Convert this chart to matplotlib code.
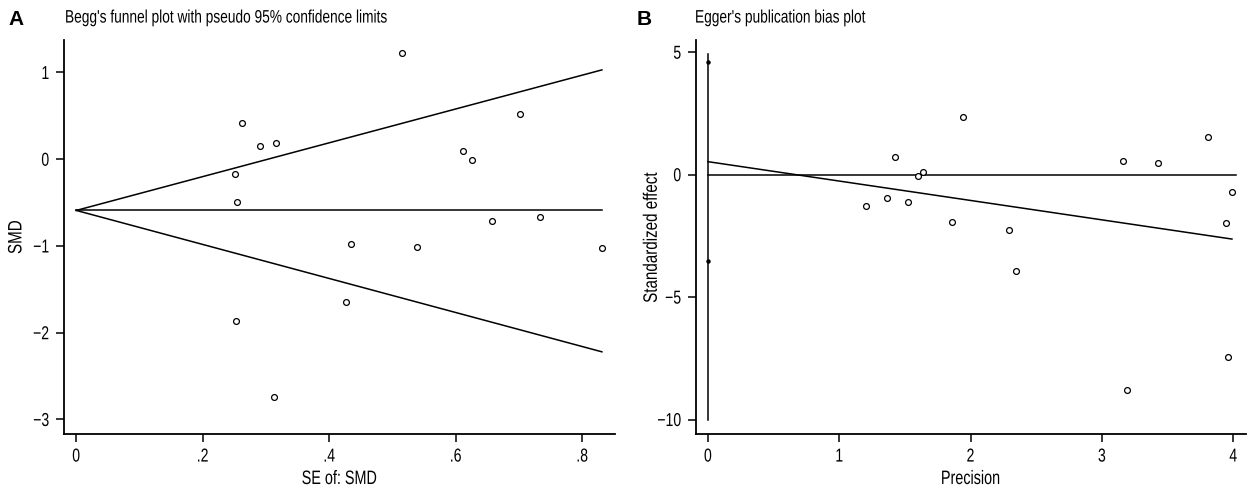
import numpy as np
import matplotlib
matplotlib.use("Agg")
import matplotlib.pyplot as plt
from matplotlib.ticker import FixedLocator, FixedFormatter
from matplotlib.patheffects import AbstractPathEffect
from matplotlib.transforms import Affine2D

plt.rcParams['font.family'] = ['Liberation Sans', 'DejaVu Sans']

# Panel A: Begg's funnel plot (SE vs SMD)
se_smd = [0.515, 0.262, 0.291, 0.316, 0.251, 0.254, 0.435, 0.701, 0.612,
          0.626, 0.657, 0.733, 0.538, 0.831, 0.253, 0.313, 0.426]
smd = [1.23, 0.416, 0.155, 0.19, -0.17, -0.49, -0.975, 0.52, 0.09,
       -0.006, -0.707, -0.67, -1.006, -1.02, -1.868, -2.745, -1.646]
funnel_x = [0.0, 0.831]
funnel_mid = [-0.59, -0.59]
funnel_up = [-0.59, 1.03]
funnel_lo = [-0.59, -2.22]
a_xticks = [0, 0.2, 0.4, 0.6, 0.8]
a_xlabels = ["0", ".2", ".4", ".6", ".8"]
a_yticks = [1, 0, -1, -2, -3]

# Panel B: Egger's publication bias plot (precision vs standardized effect)
precision = [1.424, 1.206, 1.363, 1.523, 1.599, 1.637, 1.861, 1.94, 3.16,
             3.43, 3.81, 3.993, 3.943, 2.295, 2.348, 3.193, 3.96]
std_effect = [0.72, -1.28, -0.95, -1.12, -0.05, 0.11, -1.92, 2.36, 0.56,
              0.48, 1.52, -0.71, -1.99, -2.28, -3.92, -8.81, -7.44]
ci_x = [0, 0]
ci_y = [-10, 4.93]
ci_ends = [4.58, -3.51]
fit_x = [0, 3.99]
fit_y = [0.53, -2.63]
zero_x = [0, 4.02]
zero_y = [0, 0]
b_xticks = [0, 1, 2, 3, 4]
b_yticks = [5, 0, -5, -10]


class Condensed(AbstractPathEffect):
    # squeeze glyphs along the text direction (Stata's narrow font look)
    def __init__(self, sx=0.8, anchor='left'):
        super().__init__()
        self.sx = sx
        self.anchor = anchor

    def draw_path(self, renderer, gc, tpath, affine, rgbFace=None):
        xmax = tpath.vertices[:, 0].max() if len(tpath.vertices) else 0
        x0 = {'left': 0, 'center': xmax / 2, 'right': xmax}[self.anchor]
        t = Affine2D().translate(-x0, 0).scale(self.sx, 1).translate(x0, 0) + affine
        renderer.draw_path(gc, tpath, t, rgbFace)


fig = plt.figure(figsize=(12.5, 4.88), dpi=100)
axA = fig.add_axes([0.0512, 0.1107, 0.4408, 0.8074])
axB = fig.add_axes([0.5568, 0.1107, 0.4400, 0.8074])

lw = 1.1
mk = dict(marker='o', markersize=4.2, markerfacecolor='white',
          markeredgecolor='black', markeredgewidth=0.9, linestyle='none')

# --- A ---
axA.plot(funnel_x, funnel_mid, color='black', lw=lw)
axA.plot(funnel_x, funnel_up, color='black', lw=lw)
axA.plot(funnel_x, funnel_lo, color='black', lw=lw)
axA.plot(se_smd, smd, **mk)
axA.set_xlim(-0.0194, 0.8517)
axA.set_ylim(-3.167, 1.375)
axA.xaxis.set_major_locator(FixedLocator(a_xticks))
axA.xaxis.set_major_formatter(FixedFormatter(a_xlabels))
axA.set_yticks(a_yticks)
axA.set_xlabel("SE of: SMD", fontsize=14)
axA.set_ylabel("SMD", fontsize=14)
axA.yaxis.set_label_coords(-0.070, 0.5)
axA.xaxis.set_label_coords(0.5, -0.094)

# --- B ---
axB.plot(ci_x, ci_y, color='black', lw=lw)
axB.plot(zero_x, zero_y, color='black', lw=lw)
axB.plot(fit_x, fit_y, color='black', lw=lw)
axB.plot([0, 0], ci_ends, marker='o', markersize=2.2, color='black',
         linestyle='none')
axB.plot(precision, std_effect, **mk)
axB.set_xlim(-0.0914, 4.097)
axB.set_ylim(-10.59, 5.50)
axB.set_xticks(b_xticks)
axB.set_yticks(b_yticks)
axB.set_xlabel("Precision", fontsize=14)
axB.set_ylabel("Standardized effect", fontsize=14)
axB.yaxis.set_label_coords(-0.064, 0.5)
axB.xaxis.set_label_coords(0.5, -0.094)

for ax in (axA, axB):
    for s in ('top', 'right'):
        ax.spines[s].set_visible(False)
    for s in ('left', 'bottom'):
        ax.spines[s].set_linewidth(1.3)
    ax.tick_params(direction='out', length=6, width=1.1, labelsize=13.5,
                   pad=4.5)
    for lab in ax.get_xticklabels():
        lab.set_path_effects([Condensed(0.75, 'center')])
    for lab in ax.get_yticklabels():
        lab.set_path_effects([Condensed(0.75, 'right')])
    ax.xaxis.label.set_path_effects([Condensed(0.74, 'center')])
    ax.yaxis.label.set_path_effects([Condensed(0.78, 'center')])

for x, s in [(0.052, "Begg's funnel plot with pseudo 95% confidence limits"),
             (0.556, "Egger's publication bias plot")]:
    fig.text(x, 0.963, s, fontsize=13, va='center', ha='left',
             path_effects=[Condensed(0.76, 'left')])
fig.text(0.007, 0.961, "A", fontsize=15, fontweight='bold', va='center',
         ha='left')
fig.text(0.509, 0.961, "B", fontsize=15, fontweight='bold', va='center',
         ha='left')

fig.savefig("out.png", dpi=100)
